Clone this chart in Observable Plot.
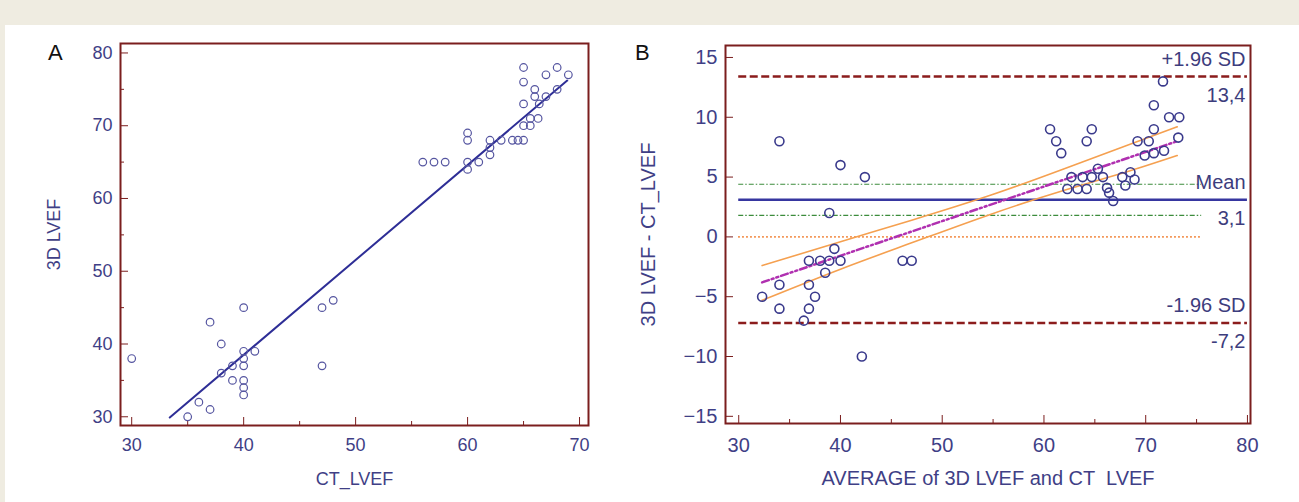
<!DOCTYPE html>
<html><head><meta charset="utf-8">
<script src="https://cdn.jsdelivr.net/npm/d3@7"></script>
<script src="https://cdn.jsdelivr.net/npm/@observablehq/plot@0.6"></script>
<style>
html,body{margin:0;padding:0;background:#efece1;}
#wrap{position:relative;width:1299px;height:502px;overflow:hidden;}
#paper{position:absolute;left:5px;top:25px;width:1294px;height:477px;background:#fff;}
.panel{position:absolute;top:0;}
#a{left:0;width:640px;} #b{left:620px;width:679px;}
.letter{position:absolute;font:22px "Liberation Sans",Arial,sans-serif;color:#111;}
svg text{white-space:pre;}
</style></head>
<body>
<div id="wrap">
  <div id="paper"></div>
  <div class="panel" id="a"></div>
  <div class="panel" id="b"></div>
  <div class="letter" style="left:48px;top:40px">A</div>
  <div class="letter" style="left:635px;top:40px">B</div>
</div>
<script>
// ---------- Panel A data: CT_LVEF vs 3D LVEF ----------
const aCT   = [30,35,36,37,37,38,38,39,39,40,40,40,40,40,40,40,41,47,48,47,
               56,57,58,60,60,60,60,61,62,62,62,63,64,64.5,65,65,65,65,65,65.6,65.6,66.3,66,66,66.4,67,67,68,68,69];
const a3D   = [38,30,32,31,43,40,36,37,35,45,39,38,37,35,34,33,39,45,46,37,
               65,65,65,69,68,65,64,65,66,67,68,68,68,68,68,70,73,76,78,70,71,71,75,74,73,74,77,75,78,77];
const aFitX = [33.4, 68.9];
const aFitY = [29.9, 76.2];
const aXTicks = [30,40,50,60,70];
const aXMinor = [35,45,55,65];
const aYTicks = [30,40,50,60,70,80];
const aYMinor = [35,45,55,65,75];

// ---------- Panel B data: Bland-Altman ----------
const bAvg  = [34,40,42.4,38.9,39.4,36.9,38,38.9,40,38.5,46.1,47,34,36.9,32.3,34,37.5,36.9,36.4,42.1,
               71.7,70.8,72.3,73.3,70.8,60.6,64.7,61.2,64.2,61.7,69.2,70.3,73.2,69.9,70.8,71.8,65.3,62.7,63.8,64.7,65.8,
               62.3,63.3,64.2,66.2,66.4,66.8,67.7,68,68.5,68.9];
const bDiff = [8,6,5,2,-1,-2,-2,-2,-2,-3,-2,-2,-4,-4,-5,-6,-5,-6,-7,-10,
               13,11,10,10,9,9,9,8,8,7,8,8,8.3,6.8,7,7.2,5.7,5,5,5,5,
               4,4,4,4.1,3.7,3,5,4.3,5.4,4.8];
const bFitX = [32.3, 73.1];
const bFitY = [-3.8, 8.0];
const bCiX     = [32.3, 40, 47, 54.8, 62, 68, 73.1];
const bCiUpper = [-2.4, -0.4, 1.4, 3.5, 5.7, 7.6, 9.2];
const bCiLower = [-5.3, -2.7, -0.5, 1.9, 3.9, 5.4, 6.8];
const sdLevels   = [13.4, -7.2];
const meanLevel  = [3.1];
const meanCi     = [4.4, 1.8];
const zeroLevel  = [0];
const lineStart  = 30, lineEnd = 80, ciEnd = 75.5;
const annoLevels = [13.4, 3.1, -7.2];
const annoNames  = ["+1.96 SD", "Mean", "-1.96 SD"];
const annoValues = ["13,4", "3,1", "-7,2"];
const bXTicks = [30,40,50,60,70,80];
const bXMinor = [35,45,55,65,75];
const bYTicks = [-15,-10,-5,0,5,10,15];

// ---------- styles ----------
const maroon = "#7b1e1e", ink = "#3f3f86", font = "'Liberation Sans', Arial, sans-serif";
const ptsA = aCT.map((x, i) => ({x, y: a3D[i]}));
const fitA = aFitX.map((x, i) => ({x, y: aFitY[i]}));
const ptsB = bAvg.map((x, i) => ({x, y: bDiff[i]}));
const fitB = bFitX.map((x, i) => ({x, y: bFitY[i]}));
const ciU = bCiX.map((x, i) => ({x, y: bCiUpper[i]}));
const ciL = bCiX.map((x, i) => ({x, y: bCiLower[i]}));
const anno = annoLevels.map((y, i) => ({y, name: annoNames[i], value: annoValues[i]}));
const blank = () => "";

const plotA = Plot.plot({
  width: 640, height: 502,
  marginLeft: 120, marginRight: 52, marginTop: 43, marginBottom: 77,
  x: {domain: [29, 70.8]},
  y: {domain: [28.8, 81.3]},
  style: {background: "transparent", fontFamily: font, fontSize: "18px", color: ink},
  marks: [
    Plot.axisX(aXTicks, {tickSize: 0, tickPadding: 13, label: "CT_LVEF", labelAnchor: "center", labelOffset: 59, labelArrow: false}),
    Plot.axisX(aXTicks, {tickSize: 8, dy: -8, stroke: maroon, tickFormat: blank, label: null}),
    Plot.axisX(aXMinor, {tickSize: 4, dy: -4, stroke: maroon, tickFormat: blank, label: null}),
    Plot.axisY(aYTicks, {tickSize: 0, tickPadding: 8, label: "3D LVEF", labelAnchor: "center", labelOffset: 73, labelArrow: false}),
    Plot.axisY(aYTicks, {tickSize: 8, dx: 8, stroke: maroon, tickFormat: blank, label: null}),
    Plot.axisY(aYMinor, {tickSize: 4, dx: 4, stroke: maroon, tickFormat: blank, label: null}),
    Plot.line(fitA, {x: "x", y: "y", stroke: "#2e2e96", strokeWidth: 2}),
    Plot.dot(ptsA, {x: "x", y: "y", r: 3.8, stroke: "#5555a0", strokeWidth: 1.2}),
    Plot.frame({stroke: maroon, strokeWidth: 2})
  ]
});
document.getElementById("a").append(plotA);

const plotB = Plot.plot({
  width: 679, height: 502,
  marginLeft: 105, marginRight: 49, marginTop: 45, marginBottom: 79,
  x: {domain: [28.7, 80.3]},
  y: {domain: [-15.6, 16]},
  style: {background: "transparent", fontFamily: font, fontSize: "20px", color: ink},
  marks: [
    Plot.axisX(bXTicks, {tickSize: 0, tickPadding: 14, label: "AVERAGE of 3D LVEF and CT  LVEF", labelAnchor: "center", labelOffset: 61, labelArrow: false}),
    Plot.axisX(bXTicks, {tickSize: 8, dy: -8, stroke: maroon, tickFormat: blank, label: null}),
    Plot.axisX(bXMinor, {tickSize: 4, dy: -4, stroke: maroon, tickFormat: blank, label: null}),
    Plot.axisY(bYTicks, {tickSize: 0, tickPadding: 8, label: "3D LVEF - CT_LVEF", labelAnchor: "center", labelOffset: 85, labelArrow: false}),
    Plot.axisY(bYTicks, {tickSize: 8, dx: 8, stroke: maroon, tickFormat: blank, label: null}),
    Plot.ruleY(zeroLevel, {x1: lineStart, x2: ciEnd, stroke: "#f07a2a", strokeWidth: 1.8, strokeDasharray: "1.5,2.5"}),
    Plot.ruleY(meanCi, {x1: lineStart, x2: ciEnd, stroke: "#3c8c3c", strokeWidth: 1.2, strokeDasharray: "5,2,1.5,2"}),
    Plot.ruleY(sdLevels, {x1: lineStart, x2: lineEnd, stroke: "#8b1c1c", strokeWidth: 2.5, strokeDasharray: "8,3.5"}),
    Plot.ruleY(meanLevel, {x1: lineStart, x2: lineEnd, stroke: "#3636a0", strokeWidth: 2.5}),
    Plot.line(ciU, {x: "x", y: "y", curve: "natural", stroke: "#f5a050", strokeWidth: 1.6}),
    Plot.line(ciL, {x: "x", y: "y", curve: "natural", stroke: "#f5a050", strokeWidth: 1.6}),
    Plot.line(fitB, {x: "x", y: "y", stroke: "#b030b0", strokeWidth: 2.5, strokeDasharray: "7,3,2,3,2,3"}),
    Plot.dot(ptsB, {x: "x", y: "y", r: 4.5, stroke: "#3a3a8c", strokeWidth: 1.6}),
    Plot.text(anno, {y: "y", text: "name", frameAnchor: "right", textAnchor: "end", dx: -5, dy: -17, fill: "#3d3d7d"}),
    Plot.text(anno, {y: "y", text: "value", frameAnchor: "right", textAnchor: "end", dx: -5, dy: 19, fill: "#3d3d7d"}),
    Plot.frame({stroke: maroon, strokeWidth: 2})
  ]
});
document.getElementById("b").append(plotB);
</script>
</body></html>
